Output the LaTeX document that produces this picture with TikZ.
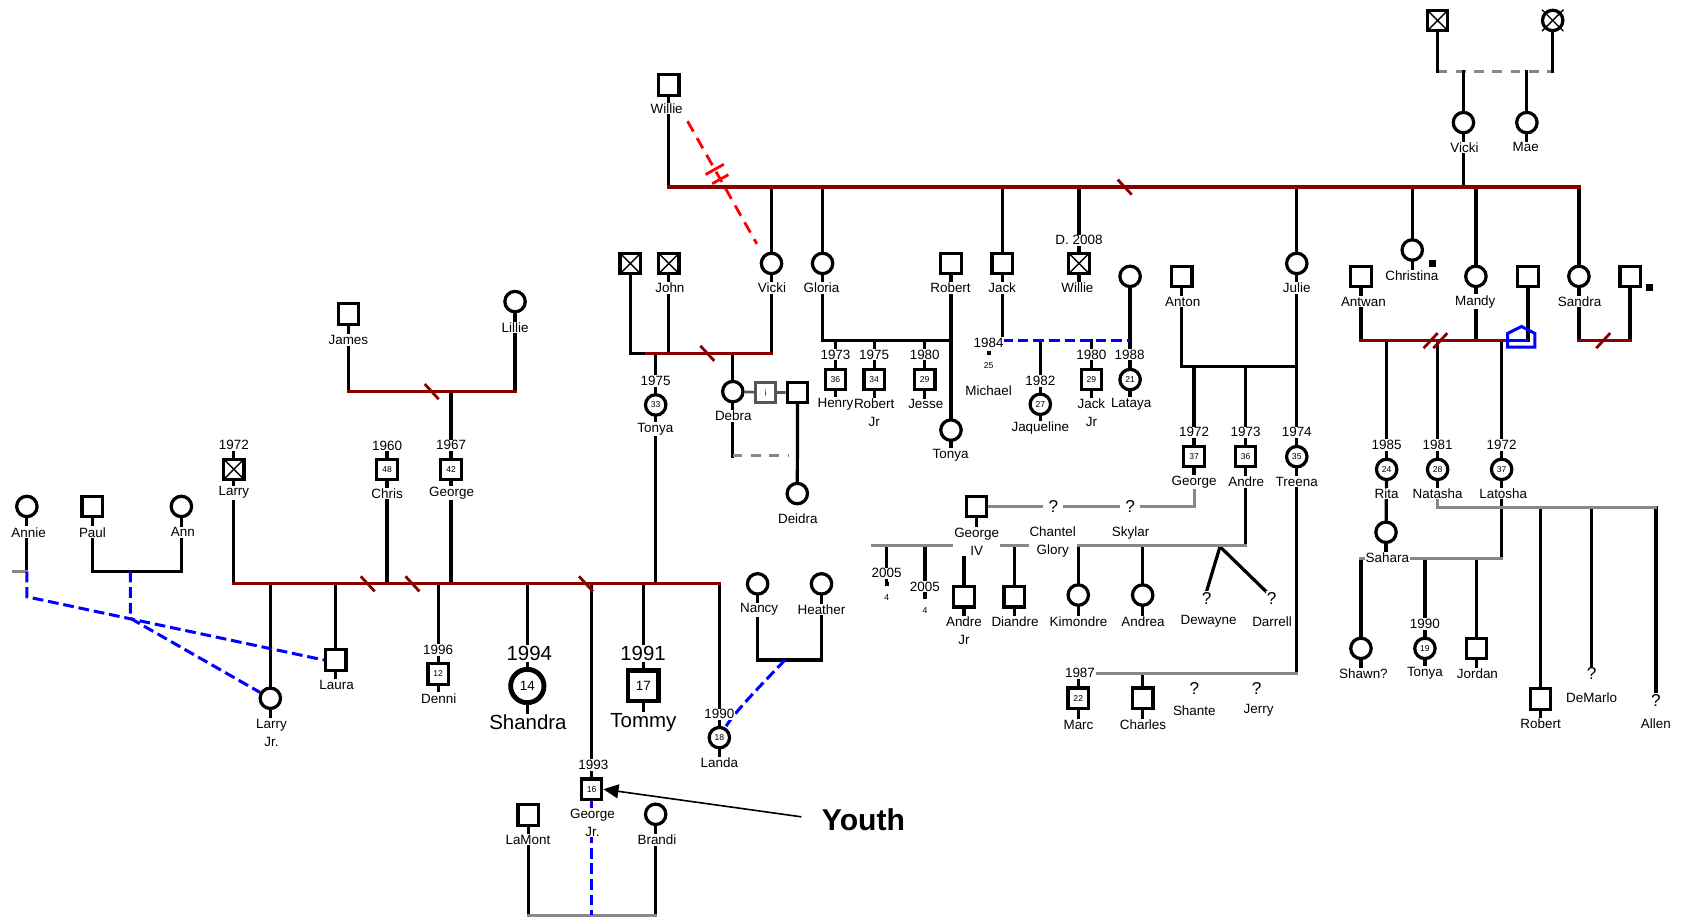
\documentclass[tikz,border=0pt]{standalone}
\usepackage{fontspec}
\setmainfont{Liberation Sans}
\usepackage{tikz}
\usetikzlibrary{arrows.meta}
\definecolor{ink}{HTML}{000000}
\definecolor{wedred}{HTML}{880000}
\definecolor{linkgray}{HTML}{888888}
\definecolor{boxgray}{HTML}{555555}
\definecolor{tieblue}{HTML}{0000FF}
\definecolor{cutred}{HTML}{FF0000}
\pgfdeclarelayer{lines}
\pgfsetlayers{lines,main}
\newcommand{\whofont}{\fontsize{12.5}{16.4}\selectfont}
\newcommand{\agefont}{\fontsize{8}{9}\selectfont}
\newcommand{\bigfont}{\fontsize{19}{21}\selectfont}
\tikzset{
  male/.style={draw=ink,fill=white,line width=3pt,minimum size=19pt,
               inner sep=0pt,font=\agefont},
  female/.style={male,circle},
  bigmale/.style={male,minimum size=28pt,line width=4pt,
                  font=\fontsize{12.5}{13}\selectfont},
  bigfemale/.style={bigmale,circle,minimum size=31pt,line width=4.5pt},
  dead/.style={path picture={\draw[ink,line width=1.3pt]
      (path picture bounding box.north west) -- (path picture bounding box.south east)
      (path picture bounding box.south west) -- (path picture bounding box.north east);}},
  who/.style={fill=white,inner sep=0.8pt,font=\whofont,align=center},
  bigwho/.style={fill=white,inner sep=1pt,font=\bigfont},
  agetag/.style={fill=white,inner sep=0.5pt,font=\agefont},
  qmark/.style={fill=white,inner sep=1pt,font=\fontsize{16}{16}\selectfont},
  blip/.style={fill=ink,minimum size=4pt,inner sep=0pt},
  kin/.style={draw=ink,line width=3pt,line cap=rect},
  wed/.style={draw=wedred,line width=3pt,line cap=rect},
  loose/.style={draw=linkgray,line width=2.8pt,line cap=rect},
  faint/.style={draw=linkgray,line width=2.8pt,dash pattern=on 9pt off 8pt},
  link/.style={draw=tieblue,line width=2.8pt,dash pattern=on 10pt off 4.5pt},
  cutoff/.style={draw=cutred,line width=2.6pt,dash pattern=on 11pt off 7pt,
                 shorten <=7pt,shorten >=12pt},
  cutbar/.style={draw=cutred,line width=2.6pt},
  sepmark/.style={draw=wedred,line width=2.6pt},
  home/.style={draw=tieblue,line width=2.8pt},
  youtharr/.style={-{Triangle[length=14pt,width=13pt]},draw=ink,line width=1.5pt,
                   shorten <=17pt}
}

\begin{document}
\begin{tikzpicture}[x=1pt,y=-1pt]
  \path[use as bounding box] (0,0) rectangle (1568,852);
  \coordinate (lvTop) at (0,66.7);
  \coordinate (lvMain) at (0,174);
  \coordinate (lvMid) at (0,316.8);
  \coordinate (lvJohn) at (0,328.6);
  \coordinate (lvAnton) at (0,340.5);
  \coordinate (lvJames) at (0,364.2);
  \coordinate (lvDebra) at (0,424);
  \coordinate (lvGeorge) at (0,471.2);
  \coordinate (lvNatasha) at (0,471.8);
  \coordinate (lvAndre) at (0,507.5);
  \coordinate (lvSahara) at (0,519.2);
  \coordinate (lvAnn) at (0,531.6);
  \coordinate (lvLarry) at (0,543);
  \coordinate (lvNancy) at (0,613.8);
  \coordinate (lvTreena) at (0,626.2);
  \coordinate (lvBrandi) at (0,851);

  \node[male,dead] (gpa) at (1337,19) {};
  \node[female] (gma) at (1444,19) {};
  \draw[line width=1.3pt] (gma.center) +(-10,-10) -- +(10,10) +(-10,10) -- +(10,-10);
  \node[female] (vickiT) at (1361,114) {};
  \node[who] (vickiTL) at (1362,137) {Vicki};
  \node[female] (mae) at (1420,114) {};
  \node[who] (maeL) at (1419,137) {Mae};

  \node[male] (willie) at (622,79) {};
  \node[who] (willieL) at (620,101) {Willie};
  \node[female] (vicki) at (717.5,245) {};
  \node[who] (vickiL) at (718,268) {Vicki};
  \node[female] (gloria) at (765,245) {};
  \node[who] (gloriaL) at (764,268) {Gloria};
  \node[male] (robert) at (884.4,245) {};
  \node[who] (robertL) at (884,268) {Robert};
  \node[male] (jack) at (932,245) {};
  \node[who] (jackL) at (932,268) {Jack};
  \node[who] (willieDY) at (1003.5,223.5) {D. 2008};
  \node[male,dead] (willieD) at (1003.5,245) {};
  \node[who] (willieDL) at (1002,268) {Willie};
  \node[female] (lmom) at (1051,257) {};
  \node[male] (anton) at (1099,257) {};
  \node[who] (antonL) at (1100,280.5) {Anton};
  \node[female] (julie) at (1206,245) {};
  \node[who] (julieL) at (1206,268) {Julie};
  \node[female] (christina) at (1313.4,232.5) {};
  \node[blip,minimum size=6.5pt] (christinaD) at (1332,245) {};
  \node[who] (christinaL) at (1313,256.7) {Christina};
  \node[male] (antwan) at (1265.7,257.3) {};
  \node[who] (antwanL) at (1268,280.5) {Antwan};
  \node[female] (mandy) at (1372.6,257) {};
  \node[who] (mandyL) at (1372,280.5) {Mandy};
  \node[male] (mpart) at (1421,257.3) {};
  \node[female] (sandra) at (1468.4,257) {};
  \node[who] (sandraL) at (1469,280.5) {Sandra};
  \node[male] (spart) at (1516,257.3) {};
  \node[blip,minimum size=6.5pt] (spartD) at (1534,267) {};

  \node[male,dead] (jgA) at (586.2,245) {};
  \node[male,dead] (john) at (622,245) {};
  \node[who] (johnL) at (623,268) {John};
  \node[who] (tonyaJY) at (609.8,354.3) {1975};
  \node[female] (tonyaJ) at (609.8,376.6) {33};
  \node[who] (tonyaJL) at (609.5,399.3) {Tonya};
  \node[female] (debra) at (681.5,364.2) {};
  \node[who] (debraL) at (682,387) {Debra};
  \node[male,draw=boxgray,line width=2.5pt] (qbox) at (712,365) {¡};
  \node[male] (dpart) at (741.7,364.9) {};
  \node[female] (deidra) at (741.5,459) {};
  \node[who] (deidraL) at (742,482) {Deidra};

  \node[who] (henryY) at (777,330) {1973};
  \node[male] (henry) at (777,353) {36};
  \node[who] (henryL) at (777,376) {Henry};
  \node[who] (robjrY) at (813,330) {1975};
  \node[male] (robjr) at (813,353) {34};
  \node[who] (robjrL) at (813,384) {Robert\\Jr};
  \node[who] (jesseY) at (860,330) {1980};
  \node[male] (jesse) at (860,353) {29};
  \node[who] (jesseL) at (861,376) {Jesse};
  \node[female] (tonyaG) at (884.4,400) {};
  \node[who] (tonyaGL) at (884,423) {Tonya};

  \node[who] (michaelY) at (919.4,318.7) {1984};
  \node[blip] (michael) at (920,328.6) {};
  \node[agetag] (michaelA) at (919.4,340.4) {25};
  \node[who] (michaelL) at (919.4,363.6) {Michael};
  \node[who] (jaqY) at (967.5,354.3) {1982};
  \node[female] (jaq) at (967.5,376) {27};
  \node[who] (jaqL) at (967.5,398.3) {Jaqueline};
  \node[who] (jackjrY) at (1015,330) {1980};
  \node[male] (jackjr) at (1015,353) {29};
  \node[who] (jackjrL) at (1015,384) {Jack\\Jr};
  \node[who] (latayaY) at (1050.5,330) {1988};
  \node[female] (lataya) at (1051,353) {21};
  \node[who] (latayaL) at (1052,376) {Lataya};

  \node[who] (georgeAY) at (1110.5,402) {1972};
  \node[male] (georgeA) at (1110.5,424.7) {37};
  \node[who] (georgeAL) at (1110.5,448) {George};
  \node[who] (andreY) at (1158.4,402) {1973};
  \node[male] (andre) at (1158.4,424.7) {36};
  \node[who] (andreL) at (1159,448) {Andre};
  \node[who] (treenaY) at (1206,402) {1974};
  \node[female] (treena) at (1206,424.7) {35};
  \node[who] (treenaL) at (1206,448) {Treena};

  \node[male] (george4) at (908.3,471.2) {};
  \node[who] (george4L) at (908.3,503.9) {George\\IV};
  \node[qmark,inner xsep=5pt] (q1) at (979.6,471) {?};
  \node[qmark,inner xsep=5pt] (q2) at (1051,471) {?};
  \node[who] (chantelL) at (979,503.9) {Chantel\\Glory};
  \node[who] (skylarL) at (1051.5,495.4) {Skylar};
  \node[who] (t1Y) at (824.6,533.2) {2005};
  \node[blip] (t1) at (824.6,543) {};
  \node[agetag] (t1A) at (824.6,555.5) {4};
  \node[who] (t2Y) at (860.2,545.6) {2005};
  \node[blip] (t2) at (860.2,555) {};
  \node[agetag] (t2A) at (860.2,568) {4};
  \node[male] (andrejr) at (896.5,555) {};
  \node[who] (andrejrL) at (896.5,586.4) {Andre\\Jr};
  \node[male] (diandre) at (943.3,555) {};
  \node[who] (diandreL) at (944,578) {Diandre};
  \node[female] (kimondre) at (1002.8,553.4) {};
  \node[who] (kimondreL) at (1003,578) {Kimondre};
  \node[female] (andrea) at (1062.7,553.4) {};
  \node[who] (andreaL) at (1063,578) {Andrea};
  \coordinate (twins) at (1134.6,508.4);
  \node[qmark] (dewayne) at (1122.2,556.4) {?};
  \node[who] (dewayneL) at (1124,578) {Dewayne};
  \node[qmark] (darrell) at (1182.6,556.4) {?};
  \node[who] (darrellL) at (1183,578) {Darrell};

  \node[who] (marcY) at (1004.4,626.2) {1987};
  \node[male] (marc) at (1002.8,649.4) {22};
  \node[who] (marcL) at (1003,674.2) {Marc};
  \node[male] (charles) at (1062.7,649.4) {};
  \node[who] (charlesL) at (1063,674.2) {Charles};
  \node[qmark] (shante) at (1110.7,640) {?};
  \node[who] (shanteL) at (1110.7,661) {Shante};
  \node[qmark] (jerry) at (1168.7,640) {?};
  \node[who] (jerryL) at (1170.5,661) {Jerry};

  \node[who] (ritaY) at (1289.6,413.8) {1985};
  \node[female] (rita) at (1289.6,436.5) {24};
  \node[who] (ritaL) at (1289.6,458.8) {Rita};
  \node[female] (sahara) at (1289,495) {};
  \node[who] (saharaN) at (1290.2,518.6) {Sahara};
  \node[who] (natashaY) at (1337,413.8) {1981};
  \node[female] (natasha) at (1337,436.5) {28};
  \node[who] (natashaN) at (1337,458.8) {Natasha};
  \node[who] (latoshaY) at (1396.5,413.8) {1972};
  \node[female] (latosha) at (1396.5,436.5) {37};
  \node[who] (latoshaN) at (1398,458.8) {Latosha};
  \node[female] (shawn) at (1265.7,603) {};
  \node[who] (shawnL) at (1268,626.2) {Shawn?};
  \node[who] (tonyaSY) at (1325.2,580.3) {1990};
  \node[female] (tonyaS) at (1325.2,603) {19};
  \node[who] (tonyaSL) at (1325.2,626.2) {Tonya};
  \node[male] (jordan) at (1373.3,603) {};
  \node[who] (jordanL) at (1374,626.2) {Jordan};
  \node[male] (robertN) at (1432.8,650) {};
  \node[who] (robertNL) at (1432.8,673.3) {Robert};
  \node[qmark] (demarlo) at (1480.2,626.8) {?};
  \node[who] (demarloL) at (1480.2,648.5) {DeMarlo};
  \node[qmark] (allen) at (1540,651) {?};
  \node[who] (allenL) at (1540,673.3) {Allen};

  \node[male] (james) at (324,292) {};
  \node[who] (jamesL) at (324,316.2) {James};
  \node[female] (lillie) at (479,280.5) {};
  \node[who] (lillieL) at (479,304.4) {Lillie};
  \node[who] (larryY) at (217.5,413.8) {1972};
  \node[male,dead] (larry) at (217.5,436.5) {};
  \node[who] (larryL) at (217.5,458.2) {Larry};
  \node[who] (chrisY) at (360,414.5) {1960};
  \node[male] (chris) at (360,436.5) {48};
  \node[who] (chrisL) at (360,458.8) {Chris};
  \node[who] (georgeJY) at (419.5,414) {1967};
  \node[male] (georgeJ) at (419.5,436.5) {42};
  \node[who] (georgeJL) at (420,458.5) {George};
  \node[female] (annie) at (25,471) {};
  \node[who] (annieL) at (26.6,495) {Annie};
  \node[male] (paul) at (85.7,471) {};
  \node[who] (paulL) at (86,495) {Paul};
  \node[female] (ann) at (168.7,471) {};
  \node[who] (annL) at (170,495) {Ann};

  \node[female] (larryjr) at (251.4,649.4) {};
  \node[who] (larryjrL) at (252.5,681.5) {Larry\\Jr.};
  \node[male] (laura) at (312.2,613.8) {};
  \node[who] (lauraL) at (313,637) {Laura};
  \node[who] (denniY) at (407.5,604.5) {1996};
  \node[male] (denni) at (407.5,626.8) {12};
  \node[who] (denniL) at (408,649.4) {Denni};
  \node[bigwho] (shandraY) at (492.3,607.6) {1994};
  \node[bigfemale] (shandra) at (490.4,638) {14};
  \node[bigwho] (shandraL) at (491,671.7) {Shandra};
  \node[bigwho] (tommyY) at (598,607.6) {1991};
  \node[bigmale] (tommy) at (598.3,637.7) {17};
  \node[bigwho] (tommyL) at (598.3,671.7) {Tommy};
  \node[who] (gjrY) at (551.8,711.4) {1993};
  \node[male] (gjr) at (550.2,734) {16};
  \node[who] (gjrL) at (551,765) {George\\Jr.};
  \node[who] (landaY) at (669,664.3) {1990};
  \node[female] (landa) at (669,686) {18};
  \node[who] (landaL) at (669,709) {Landa};
  \node[female] (nancy) at (704.6,543) {};
  \node[who] (nancyL) at (706,567) {Nancy};
  \node[female] (heather) at (764,543) {};
  \node[who] (heatherL) at (764,567) {Heather};
  \node[male] (lamont) at (491.3,758) {};
  \node[who] (lamontL) at (491,781) {LaMont};
  \node[female] (brandi) at (609.8,757.3) {};
  \node[who] (brandiL) at (611,781) {Brandi};
  \node[font=\bfseries\fontsize{28}{30}\selectfont,inner sep=2pt] (youth) at (803,762) {Youth};
  \draw[youtharr] (youth.west) -- (gjr.east);

  \coordinate (annieEnd) at (12.6,531.6);
  \coordinate (paulann) at (121.2,531.6);
  \coordinate (nancyheather) at (730,613.8);
  \coordinate (andreEnd) at (811.6,507.5);
  \coordinate (house) at (1402,316.8);

  \begin{pgfonlayer}{lines}
    \foreach \s/\l in {vickiT/vickiTL,mae/maeL,willie/willieL,vicki/vickiL,gloria/gloriaL,
        robert/robertL,jack/jackL,willieD/willieDL,anton/antonL,julie/julieL,
        christina/christinaL,antwan/antwanL,mandy/mandyL,sandra/sandraL,john/johnL,
        tonyaJ/tonyaJL,debra/debraL,henry/henryL,robjr/robjrL,jesse/jesseL,
        tonyaG/tonyaGL,jaq/jaqL,jackjr/jackjrL,lataya/latayaL,georgeA/georgeAL,
        andre/andreL,treena/treenaL,george4/george4L,andrejr/andrejrL,
        diandre/diandreL,kimondre/kimondreL,andrea/andreaL,marc/marcL,
        charles/charlesL,rita/ritaL,sahara/saharaN,natasha/natashaN,
        latosha/latoshaN,shawn/shawnL,tonyaS/tonyaSL,jordan/jordanL,
        robertN/robertNL,james/jamesL,lillie/lillieL,larry/larryL,chris/chrisL,
        georgeJ/georgeJL,annie/annieL,paul/paulL,ann/annL,larryjr/larryjrL,
        laura/lauraL,denni/denniL,shandra/shandraL,tommy/tommyL,landa/landaL,
        nancy/nancyL,heather/heatherL,lamont/lamontL,brandi/brandiL,
        tonyaJ/tonyaJY,henry/henryY,robjr/robjrY,jesse/jesseY,jaq/jaqY,
        jackjr/jackjrY,lataya/latayaY,georgeA/georgeAY,andre/andreY,
        treena/treenaY,marc/marcY,rita/ritaY,natasha/natashaY,latosha/latoshaY,
        tonyaS/tonyaSY,larry/larryY,chris/chrisY,georgeJ/georgeJY,denni/denniY,
        shandra/shandraY,tommy/tommyY,gjr/gjrY,landa/landaY,willieD/willieDY}
      \draw[kin] (\s) -- (\s |- \l);

    \draw[faint] (gpa |- lvTop) -- (gma |- lvTop);
    \draw[kin] (gpa) -- (gpa |- lvTop);
    \draw[kin] (gma) -- (gma |- lvTop);
    \draw[kin] (vickiT |- lvTop) -- (vickiT) -- (vickiT |- lvMain);
    \draw[kin] (mae |- lvTop) -- (mae);

    \draw[kin] (willie) -- (willie |- lvMain);
    \foreach \k in {vicki,gloria,jack,willieD,julie,christina,mandy,sandra}
      \draw[kin] (\k |- lvMain) -- (\k);
    \draw[wed] (willie |- lvMain) -- (sandra |- lvMain);
    \draw[sepmark] (1046,174) +(-6.5,-7) -- +(6.5,7);
    \draw[cutoff] (willieL.south east) -- coordinate[pos=0.39] (cutA)
      coordinate[pos=0.46] (cutB) (vicki.north west);
    \draw[cutbar] (cutA) +(-8.5,4.8) -- +(8.5,-4.8);
    \draw[cutbar] (cutB) +(-7.5,4.2) -- +(7.5,-4.2);

    \draw[kin] (jgA) -- (jgA |- lvJohn) -- ([xshift=15pt]jgA |- lvJohn);
    \draw[kin] (john) -- (john |- lvJohn);
    \draw[kin] (vicki) -- (vicki |- lvJohn);
    \draw[kin] (tonyaJ |- lvJohn) -- (tonyaJ |- lvLarry);
    \draw[kin] (debra |- lvJohn) -- (debra) -- (debra |- lvDebra);
    \draw[wed] ([xshift=15pt]jgA |- lvJohn) -- (vicki |- lvJohn);
    \draw[sepmark] (657.8,328.6) +(-6.5,-7) -- +(6.5,7);
    \draw[draw=boxgray,line width=2.5pt] (debra) -- (qbox) -- (dpart);
    \draw[faint] (debra |- lvDebra) -- ([xshift=-8pt]dpart |- lvDebra);
    \draw[kin] (dpart) -- (deidra);

    \draw[kin] (gloria) -- (gloria |- lvMid) -- (robert |- lvMid);
    \draw[kin] (robert) -- (tonyaG);
    \foreach \k in {henry,robjr,jesse} \draw[kin] (\k |- lvMid) -- (\k);

    \draw[kin] (jack) -- (jack |- lvMid);
    \draw[kin] (lmom) -- (lataya);
    \draw[kin] (jaq |- lvMid) -- (jaq);
    \draw[kin] (jackjr |- lvMid) -- (jackjr);
    \draw[link] (jack |- lvMid) -- (lmom |- lvMid);

    \draw[kin] (anton) -- (anton |- lvAnton) -- (julie |- lvAnton);
    \draw[kin] (julie) -- (treena) -- (treena |- lvTreena);
    \draw[kin] (georgeA |- lvAnton) -- (georgeA);
    \draw[kin] (andre |- lvAnton) -- (andre) -- (andre |- lvAndre);
    \draw[loose] (georgeAL) -- (georgeAL |- lvGeorge) -- (george4);

    \foreach \k in {t1,t2,andrejr,diandre,kimondre,andrea}
      \draw[kin] (\k |- lvAndre) -- (\k);
    \draw[kin] (twins) -- (dewayne.north) (twins) -- (darrell.north west);
    \draw[loose] (andre |- lvAndre) -- (andreEnd);

    \draw[kin] (marc |- lvTreena) -- (marc);
    \draw[kin] (charles |- lvTreena) -- (charles);
    \draw[loose] (treena |- lvTreena) -- (marc |- lvTreena);

    \draw[kin] (antwan) -- (antwan |- lvMid);
    \draw[kin] (mandy) -- (mandy |- lvMid);
    \draw[kin] (mpart) -- (mpart |- lvMid);
    \foreach \k in {rita,natasha,latosha} \draw[kin] (\k |- lvMid) -- (\k);
    \draw[wed] (antwan |- lvMid) -- (house);
    \draw[sepmark] (1330.5,316.8) +(-6.5,7) -- +(6.5,-7);
    \draw[sepmark] (1339.5,316.8) +(-6.5,7) -- +(6.5,-7);
    \draw[home] (house) ++(0,6) -- ++(0,-12.7) -- ++(13,-6.5) -- ++(12.5,6.5)
      -- ++(0,12.7) -- cycle;
    \draw[home] (house) -- (mpart |- lvMid);
    \draw[kin] (sandra) -- (sandra |- lvMid);
    \draw[kin] (spart) -- (spart |- lvMid);
    \draw[wed] (sandra |- lvMid) -- (spart |- lvMid);
    \draw[sepmark] (1491,316.8) +(-6.5,7) -- +(6.5,-7);

    \draw[kin] (rita) -- (sahara);
    \draw[kin] (latosha) -- (latosha |- lvSahara);
    \foreach \k in {shawn,tonyaS,jordan} \draw[kin] (\k |- lvSahara) -- (\k);
    \draw[loose] (latosha |- lvSahara) -- (shawn |- lvSahara);
    \foreach \k in {robertN,demarlo,allen} \draw[kin] (\k |- lvNatasha) -- (\k.north);
    \draw[loose] (natashaN) -- (natasha |- lvNatasha) -- (allen |- lvNatasha);

    \draw[kin] (james) -- (james |- lvJames);
    \draw[kin] (lillie) -- (lillie |- lvJames);
    \draw[kin] (georgeJ |- lvJames) -- (georgeJ) -- (georgeJ |- lvLarry);
    \draw[wed] (james |- lvJames) -- (lillie |- lvJames);
    \draw[sepmark] (401.5,364.2) +(-6.5,-7) -- +(6.5,7);

    \draw[kin] (larry) -- (larry |- lvLarry);
    \draw[kin] (chris) -- (chris |- lvLarry);
    \foreach \k in {larryjr,laura,denni,shandra,gjr,tommy,landa}
      \draw[kin] (\k |- lvLarry) -- (\k);
    \draw[wed] (larry |- lvLarry) -- (landa |- lvLarry);
    \foreach \x in {342,383.6,545}
      \draw[sepmark] (\x,543) +(-6.5,-7) -- +(6.5,7);

    \draw[kin] (annie) -- (annie |- lvAnn);
    \draw[loose] (annie |- lvAnn) -- (annieEnd);
    \draw[kin] (paul) -- (paul |- lvAnn) -- (ann |- lvAnn) -- (ann);
    \draw[link] (annie |- lvAnn) -- ++(0,23.4) -- (laura.west);
    \draw[link] (paulann) -- ++(0,43.4) -- (larryjr);

    \draw[kin] (nancy) -- (nancy |- lvNancy) -- (heather |- lvNancy) -- (heather);
    \draw[link] (nancyheather) .. controls +(-17,18) and +(14,-24) .. (landa);

    \draw[kin] (lamont) -- (lamont |- lvBrandi);
    \draw[kin] (brandi) -- (brandi |- lvBrandi);
    \draw[loose] (lamont |- lvBrandi) -- (brandi |- lvBrandi);
    \draw[link] (gjr) -- (gjr |- lvBrandi);
  \end{pgfonlayer}
\end{tikzpicture}
\end{document}
